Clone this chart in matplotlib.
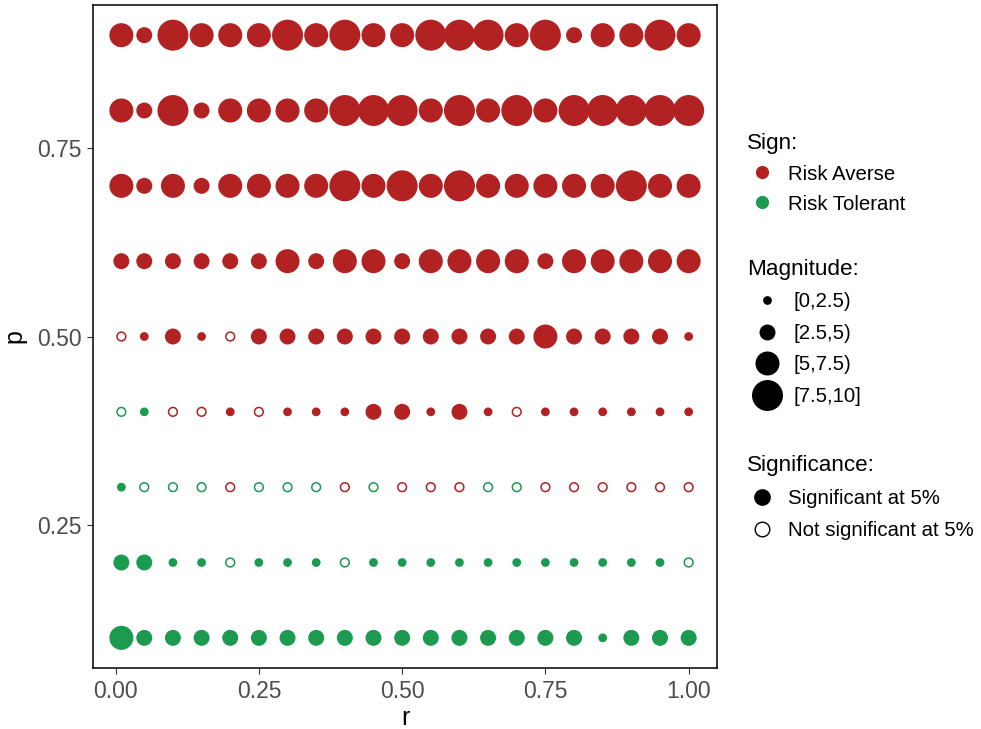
import numpy as np
import matplotlib.pyplot as plt
from matplotlib.lines import Line2D

# ------------------------------------------
# Data: grid of r (x) by p (y)
# ------------------------------------------
r_vals = [0.01, 0.05, 0.10, 0.15, 0.20, 0.25, 0.30, 0.35, 0.40, 0.45, 0.50,
          0.55, 0.60, 0.65, 0.70, 0.75, 0.80, 0.85, 0.90, 0.95, 1.00]
p_vals = [0.1, 0.2, 0.3, 0.4, 0.5, 0.6, 0.7, 0.8, 0.9]

# magnitude class: 1=[0,2.5) 2=[2.5,5) 3=[5,7.5) 4=[7.5,10]
magnitude = [
    [3, 2, 2, 2, 2, 2, 2, 2, 2, 2, 2, 2, 2, 2, 2, 2, 2, 1, 2, 2, 2],  # p=0.1
    [2, 2, 1, 1, 1, 1, 1, 1, 1, 1, 1, 1, 1, 1, 1, 1, 1, 1, 1, 1, 1],  # p=0.2
    [1, 1, 1, 1, 1, 1, 1, 1, 1, 1, 1, 1, 1, 1, 1, 1, 1, 1, 1, 1, 1],  # p=0.3
    [1, 1, 1, 1, 1, 1, 1, 1, 1, 2, 2, 1, 2, 1, 1, 1, 1, 1, 1, 1, 1],  # p=0.4
    [1, 1, 2, 1, 1, 2, 2, 2, 2, 2, 2, 2, 2, 2, 2, 3, 2, 2, 2, 2, 1],  # p=0.5
    [2, 2, 2, 2, 2, 2, 3, 2, 3, 3, 2, 3, 3, 3, 3, 2, 3, 3, 3, 3, 3],  # p=0.6
    [3, 2, 3, 2, 3, 3, 3, 3, 4, 3, 4, 3, 4, 3, 3, 3, 3, 3, 4, 3, 3],  # p=0.7
    [3, 2, 4, 2, 3, 3, 3, 3, 4, 4, 4, 3, 4, 3, 4, 3, 4, 4, 4, 4, 4],  # p=0.8
    [3, 2, 4, 3, 3, 3, 4, 3, 4, 3, 3, 4, 4, 4, 3, 4, 2, 3, 3, 4, 3],  # p=0.9
]

# sign: 1 = Risk Averse, 0 = Risk Tolerant
sign = [
    [0] * 21,
    [0] * 21,
    [0, 0, 0, 0, 1, 0, 0, 0, 1, 0, 1, 1, 1, 0, 0, 1, 1, 1, 1, 1, 1],
    [0, 0] + [1] * 19,
    [1] * 21,
    [1] * 21,
    [1] * 21,
    [1] * 21,
    [1] * 21,
]

# significance: 1 = significant at 5%, 0 = not
signif = [
    [1] * 21,
    [1, 1, 1, 1, 0, 1, 1, 1, 0, 1, 1, 1, 1, 1, 1, 1, 1, 1, 1, 1, 0],
    [1] + [0] * 20,
    [0, 1, 0, 0, 1, 0, 1, 1, 1, 1, 1, 1, 1, 1, 0, 1, 1, 1, 1, 1, 1],
    [0, 1, 1, 1, 0] + [1] * 16,
    [1] * 21,
    [1] * 21,
    [1] * 21,
    [1] * 21,
]

mag_labels = ["[0,2.5)", "[2.5,5)", "[5,7.5)", "[7.5,10]"]
sign_labels = ["Risk Averse", "Risk Tolerant"]
sig_labels = ["Significant at 5%", "Not significant at 5%"]

# ------------------------------------------
# Styling
# ------------------------------------------
RED = "#B22222"
GREEN = "#1B9A50"
diam_pt = {1: 6.3, 2: 11.5, 3: 17.3, 4: 22.3}   # marker diameter in points

plt.rcParams['font.family'] = ['Liberation Sans', 'DejaVu Sans']

fig = plt.figure(figsize=(9.81, 7.29), dpi=100)
ax = fig.add_axes([0.0948, 0.0837, 0.6361, 0.9094])

R, P = np.meshgrid(r_vals, p_vals)
mag_arr = np.array(magnitude)
sign_arr = np.array(sign)
sig_arr = np.array(signif)

colors = np.where(sign_arr == 1, RED, GREEN)
sizes = np.vectorize(lambda m: diam_pt[m] ** 2)(mag_arr)

filled = sig_arr == 1
ax.scatter(R[filled], P[filled], s=sizes[filled], c=colors[filled],
           edgecolors='none', zorder=3)
hollow = ~filled
ax.scatter(R[hollow], P[hollow], s=sizes[hollow], facecolors='white',
           edgecolors=colors[hollow], linewidths=1.1, zorder=3)

ax.set_xlim(0.01 - 0.0495, 1.00 + 0.0495)
ax.set_ylim(0.06, 0.94)
ax.set_xticks([0.00, 0.25, 0.50, 0.75, 1.00])
ax.set_xticklabels(["0.00", "0.25", "0.50", "0.75", "1.00"])
ax.set_yticks([0.25, 0.50, 0.75])
ax.set_yticklabels(["0.25", "0.50", "0.75"])
ax.tick_params(axis='both', colors='#333333', labelcolor='#4D4D4D',
               labelsize=16.5, length=4, width=0.8, pad=4)
ax.tick_params(axis='x', pad=5)
for s in ax.spines.values():
    s.set_color('black')
    s.set_linewidth(1.1)
ax.set_xlabel("r", fontsize=18, labelpad=2)
ax.set_ylabel("p", fontsize=18, labelpad=8)

# ------------------------------------------
# Legends
# ------------------------------------------
sign_handles = [Line2D([], [], marker='o', linestyle='', markersize=9.5,
                       markerfacecolor=c, markeredgecolor='none')
                for c in [RED, GREEN]]
mag_handles = [Line2D([], [], marker='o', linestyle='', markersize=diam_pt[m],
                      markerfacecolor='black', markeredgecolor='none')
               for m in [1, 2, 3, 4]]
sig_handles = [Line2D([], [], marker='o', linestyle='', markersize=11,
                      markerfacecolor='black', markeredgecolor='black'),
               Line2D([], [], marker='o', linestyle='', markersize=10.5,
                      markerfacecolor='white', markeredgecolor='black',
                      markeredgewidth=1.0)]

common = dict(frameon=False, fontsize=14.7, title_fontsize=16.2,
              alignment='left', borderaxespad=0, borderpad=0,
              loc='upper left')

leg1 = fig.legend(sign_handles, sign_labels, title="Sign:",
                  bbox_to_anchor=(0.7615, 0.8182), labelspacing=0.54,
                  handlelength=1.5, handletextpad=0.5, **common)
leg2 = fig.legend(mag_handles, mag_labels, title="Magnitude:",
                  bbox_to_anchor=(0.7615, 0.6454), labelspacing=0.62,
                  handlelength=2.0, handletextpad=0.3, **common)
leg3 = fig.legend(sig_handles, sig_labels, title="Significance:",
                  bbox_to_anchor=(0.7615, 0.3765), labelspacing=0.66,
                  handlelength=1.5, handletextpad=0.5, **common)

fig.savefig("out.png", dpi=100)
